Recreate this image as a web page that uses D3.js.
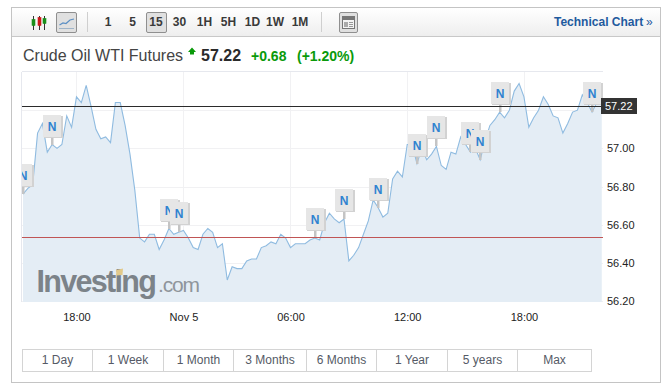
<!DOCTYPE html>
<html><head><meta charset="utf-8">
<script src="https://cdn.jsdelivr.net/npm/d3@7"></script>
<style>
html,body{margin:0;padding:0;background:#fff;overflow:hidden}
text{font-family:"Liberation Sans",Arial,sans-serif}
</style></head><body>
<svg id="c" width="670" height="392"></svg>
<script>
const prices=[56.76,56.79,56.81,57.08,57.13,56.98,57.02,57.00,57.02,57.17,57.11,57.27,57.24,57.33,57.22,57.10,57.05,57.06,57.03,57.24,57.24,57.12,56.97,56.78,56.53,56.51,56.55,56.55,56.47,56.52,56.58,56.55,56.56,56.57,56.53,56.48,56.47,56.55,56.58,56.56,56.48,56.50,56.31,56.38,56.37,56.37,56.41,56.42,56.42,56.48,56.49,56.51,56.50,56.55,56.53,56.48,56.50,56.50,56.50,56.52,56.53,56.52,56.61,56.66,56.63,56.61,56.63,56.41,56.44,56.48,56.55,56.62,56.73,56.69,56.64,56.66,56.84,56.88,56.85,57.02,57.02,56.92,57.00,56.94,56.97,57.01,56.91,56.89,56.98,56.97,57.06,57.02,56.98,57.00,56.94,57.04,57.12,57.15,57.19,57.16,57.20,57.30,57.34,57.27,57.11,57.16,57.20,57.27,57.23,57.17,57.16,57.08,57.13,57.19,57.20,57.28,57.24,57.19,57.24,57.24];
const timeTickIndex=[11,33,55,79,103];
const timeTickLabels=["18:00","Nov 5","06:00","12:00","18:00"];
const priceTicks=[56.2,56.4,56.6,56.8,57.0,57.2];
const newsIndex=[0,6,30,32,60,66,73,81,85,92,94,98,117];
const lastPrice=57.22;
const levelPrice=56.535;
const intervals=["1","5","15","30","1H","5H","1D","1W","1M"];
const ranges=["1 Day","1 Week","1 Month","3 Months","6 Months","1 Year","5 years","Max"];

const svg=d3.select("#c");
const L=22,R=603,T=72,B=302;
const x=d3.scaleLinear().domain([-0.2,119.25]).range([L,R]);
const y=d3.scaleLinear().domain([56.195,57.4]).range([B,T]);

// frame
const defs=svg.append("defs");
const g=defs.append("linearGradient").attr("id","tb").attr("x1",0).attr("x2",0).attr("y1",0).attr("y2",1);
g.append("stop").attr("offset",0).attr("stop-color","#ffffff");
g.append("stop").attr("offset",1).attr("stop-color","#eeeeee");
defs.append("clipPath").attr("id","plot").append("rect").attr("x",L).attr("y",T).attr("width",R-L).attr("height",B-T);
svg.append("rect").attr("x",11.5).attr("y",7.5).attr("width",649).attr("height",375).attr("fill","#fff").attr("stroke","#c4c4c4");
svg.append("rect").attr("x",12).attr("y",8).attr("width",648).attr("height",28).attr("fill","url(#tb)");
svg.append("line").attr("x1",12).attr("x2",660).attr("y1",36.5).attr("y2",36.5).attr("stroke","#c8c8c8");

// toolbar
const tb=svg.append("g");
function pressed(px,py,w,h){tb.append("rect").attr("x",px+.5).attr("y",py+.5).attr("width",w).attr("height",h).attr("rx",1.5).attr("fill","#e0e0e0").attr("stroke","#8f8f8f");}
[[34,"#1a8f1a",20,26],[40,"#cc1a1a",18,26],[45,"#1a8f1a",19,24]].forEach(([cx,col,a,b])=>{
  tb.append("line").attr("x1",cx-.5).attr("x2",cx-.5).attr("y1",16).attr("y2",30).attr("stroke","#333");
  tb.append("rect").attr("x",cx-2).attr("y",a-.5).attr("width",3).attr("height",b-a).attr("fill",col).attr("stroke",col).attr("stroke-width",.6);
});
pressed(56,12,20,20);
tb.append("path").attr("d","M59.5 25L63 23L66 23.5L70 20L74 19").attr("fill","none").attr("stroke","#5b8fc4").attr("stroke-width",1.2);
tb.append("line").attr("x1",59).attr("x2",74).attr("y1",28.5).attr("y2",28.5).attr("stroke","#9fb4c8");
tb.append("line").attr("x1",87.5).attr("x2",87.5).attr("y1",12).attr("y2",32).attr("stroke","#cfcfcf");
pressed(146,12,20,20);
tb.append("line").attr("x1",321.5).attr("x2",321.5).attr("y1",12).attr("y2",32).attr("stroke","#cfcfcf");
const btnX=[108,132.5,156,179.5,204.5,228.5,252.5,275,300];
tb.selectAll("text.iv").data(intervals).join("text").attr("class","iv")
  .attr("x",(d,i)=>btnX[i]).attr("y",26).attr("text-anchor","middle")
  .attr("font-size",12).attr("font-weight","bold").attr("fill","#3a3a3a").text(d=>d);
pressed(339,12,18,20);
tb.append("rect").attr("x",342.5).attr("y",16.5).attr("width",12).attr("height",12).attr("fill","#f4f4f4").attr("stroke","#777");
tb.append("rect").attr("x",343).attr("y",17).attr("width",11).attr("height",3).attr("fill","#777");
tb.append("rect").attr("x",344).attr("y",22).attr("width",4).attr("height",5).attr("fill","#aaa");
[22.5,24.5,26.5].forEach(v=>tb.append("line").attr("x1",349).attr("x2",353).attr("y1",v).attr("y2",v).attr("stroke","#999"));
tb.append("text").attr("x",554).attr("y",26).attr("font-size",12).attr("font-weight","bold").attr("fill","#1f5a9e").text("Technical Chart");
tb.append("text").attr("x",646).attr("y",26).attr("font-size",12).attr("fill","#1f5a9e").text("»");

// title
svg.append("text").attr("x",23).attr("y",61).attr("font-size",16).attr("fill","#444").text("Crude Oil WTI Futures");
svg.append("path").attr("d","M188 52L192 47.5L196 52L194 52L194 54.5L190 54.5L190 52Z").attr("fill","#0a9a0a");
svg.append("text").attr("x",201).attr("y",61).attr("font-size",16).attr("font-weight","bold").attr("fill","#2a2a2a").text("57.22");
svg.append("text").attr("x",251).attr("y",61).attr("font-size",14).attr("font-weight","bold").attr("fill","#0a9a0a").text("+0.68");
svg.append("text").attr("x",297).attr("y",61).attr("font-size",14).attr("font-weight","bold").attr("fill","#0a9a0a").text("(+1.20%)");

// grid
const grid=svg.append("g");
grid.selectAll("line.v").data(timeTickIndex).join("line").attr("class","v")
  .attr("x1",d=>Math.round(x(d))+.5).attr("x2",d=>Math.round(x(d))+.5).attr("y1",T).attr("y2",B).attr("stroke","#f1f1f3");
grid.selectAll("line.h").data(priceTicks).join("line").attr("class","h")
  .attr("x1",L).attr("x2",R).attr("y1",d=>Math.round(y(d))+.5).attr("y2",d=>Math.round(y(d))+.5).attr("stroke","#f1f1f3");
svg.append("line").attr("x1",L-.5).attr("x2",L-.5).attr("y1",T).attr("y2",B).attr("stroke","#e6e8ee");
svg.append("line").attr("x1",L).attr("x2",R).attr("y1",T-.5).attr("y2",T-.5).attr("stroke","#e6e8ee");

// area + line
const plot=svg.append("g").attr("clip-path","url(#plot)");
plot.append("path").datum(prices).attr("fill","#e4edf5")
  .attr("d",d3.area().x((d,i)=>x(i)).y0(B).y1(d=>y(d)));
// watermark
const wm=plot.append("g");
wm.append("text").attr("x",36.5).attr("y",292).attr("font-size",30.5).attr("font-weight","bold").attr("letter-spacing","-1.7").attr("fill","#7c8389").text("Investing");
wm.append("text").attr("x",158).attr("y",292).attr("font-size",21).attr("letter-spacing","-1.2").attr("fill","#8f959b").text(".com");
wm.append("path").attr("d","M116.5 270L123 268.5L122.5 275L116 275.5Z").attr("fill","#e2c98a");
plot.append("path").datum(prices).attr("fill","none").attr("stroke","#8fbbe0").attr("stroke-width",1.1)
  .attr("d",d3.line().x((d,i)=>x(i)).y(d=>y(d)));

// level lines
svg.append("line").attr("x1",L).attr("x2",R).attr("y1",Math.round(y(lastPrice))+.5).attr("y2",Math.round(y(lastPrice))+.5).attr("stroke","#2b2b2b");
svg.append("line").attr("x1",L).attr("x2",R).attr("y1",Math.round(y(levelPrice))+.5).attr("y2",Math.round(y(levelPrice))+.5).attr("stroke","#c05555");

// news
const news=plot.selectAll("g.n").data(newsIndex).join("g").attr("class","n")
  .attr("transform",d=>`translate(${Math.round(x(d))},${Math.round(y(prices[d]))})`);
news.append("rect").attr("x",-1).attr("y",-9).attr("width",2.5).attr("height",9).attr("fill","#c4c4c4");
news.append("rect").attr("x",-8).attr("y",-29).attr("width",19).attr("height",22).attr("fill","#d2d2d2");
news.append("rect").attr("x",-9).attr("y",-30).attr("width",18).attr("height",22).attr("fill","#e6e6e6");
news.append("text").attr("x",0).attr("y",-14.5).attr("text-anchor","middle").attr("font-size",12).attr("font-weight","bold").attr("fill","#2f83d0").text("N");

// axes
const xAxis=svg.append("g").attr("transform",`translate(0,${B})`)
  .call(d3.axisBottom(x).tickValues(timeTickIndex).tickSize(0).tickPadding(11).tickFormat((d,i)=>timeTickLabels[i]));
const yAxis=svg.append("g").attr("transform",`translate(${R},0)`)
  .call(d3.axisRight(y).tickValues(priceTicks).tickSize(0).tickPadding(4).tickFormat(d3.format(".2f")));
[xAxis,yAxis].forEach(a=>{a.select(".domain").remove();a.selectAll("text").attr("font-family",'"Liberation Sans",Arial,sans-serif').attr("font-size",11).attr("fill","#222");});
yAxis.selectAll(".tick").filter(d=>d===57.2).remove();

// price tag
svg.append("rect").attr("x",601).attr("y",Math.round(y(lastPrice))-8).attr("width",36).attr("height",16).attr("fill","#333");
svg.append("text").attr("x",605).attr("y",Math.round(y(lastPrice))+4).attr("font-size",11).attr("fill","#fff").text(lastPrice.toFixed(2));

// range buttons
const rx=[22,92,163,233,306,376,447,517,591];
const rg=svg.append("g");
rg.append("rect").attr("x",22.5).attr("y",349.5).attr("width",569).attr("height",22).attr("fill","#fff").attr("stroke","#d4d4d4");
rg.selectAll("line").data(rx.slice(1,-1)).join("line").attr("x1",d=>d+.5).attr("x2",d=>d+.5).attr("y1",350).attr("y2",371).attr("stroke","#d4d4d4");
rg.selectAll("text").data(ranges).join("text")
  .attr("x",(d,i)=>(rx[i]+rx[i+1])/2+.5).attr("y",364).attr("text-anchor","middle").attr("font-size",12).attr("fill","#555a66").text(d=>d);
</script></body></html>
